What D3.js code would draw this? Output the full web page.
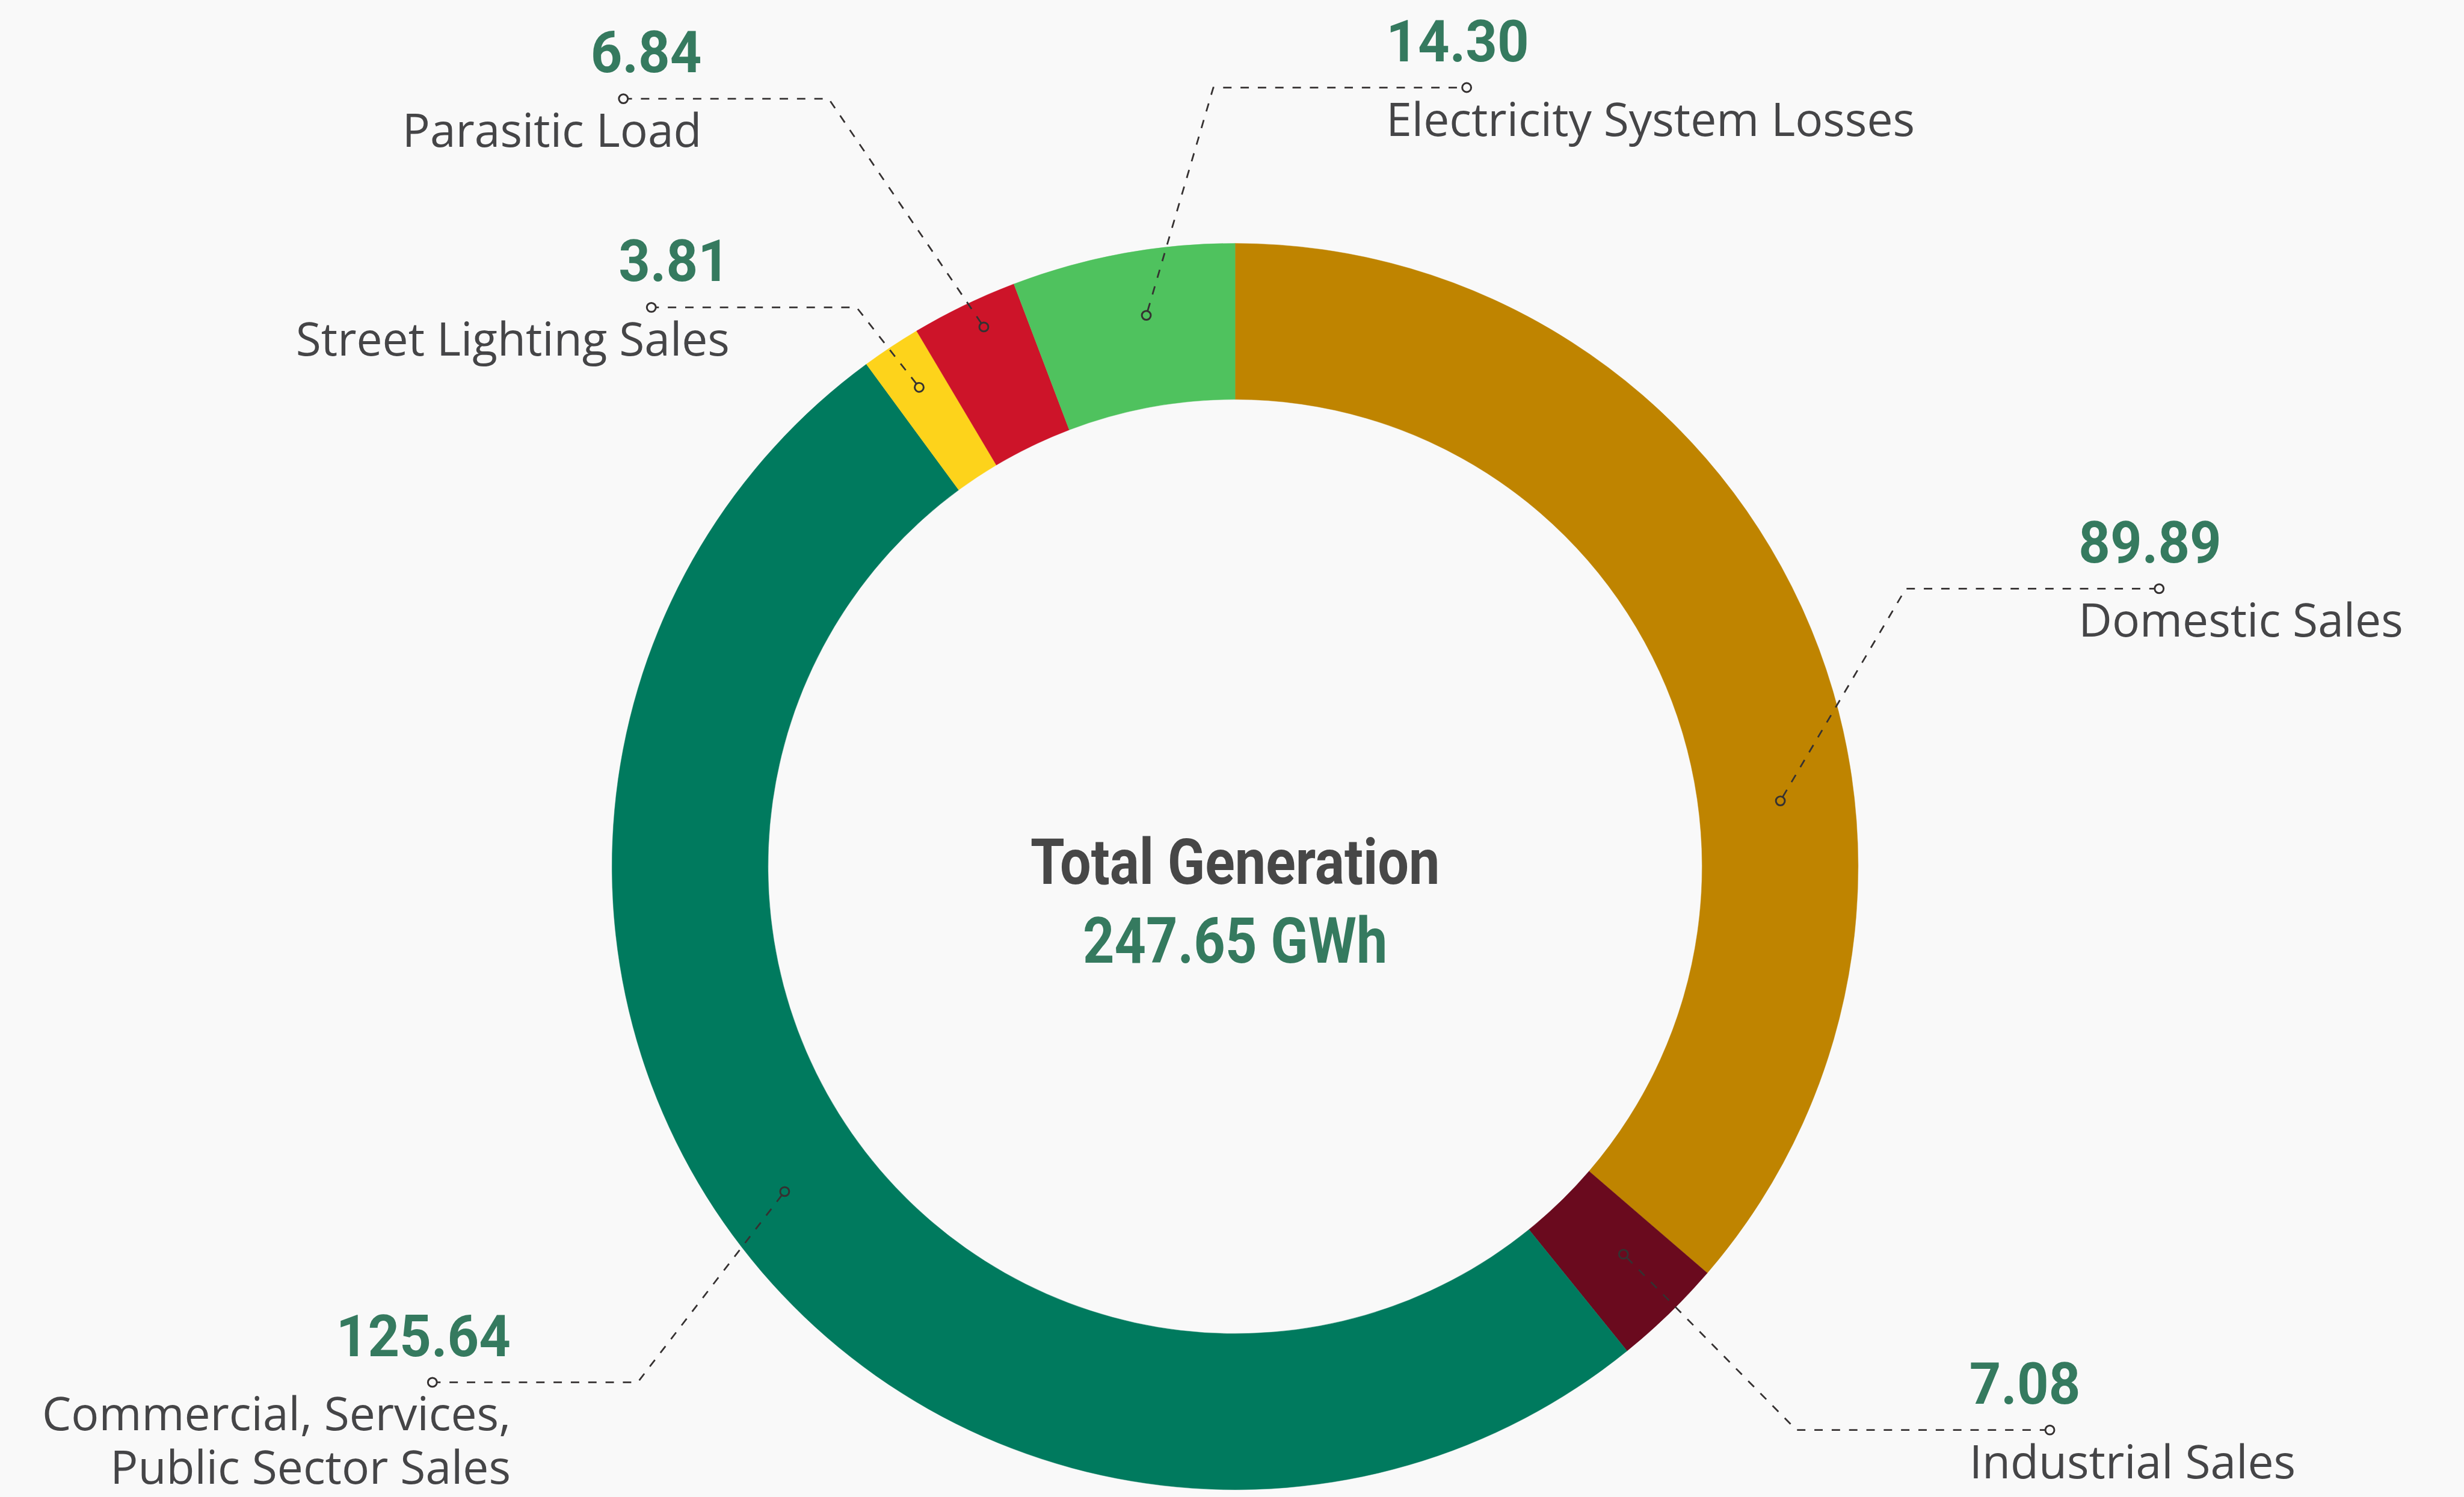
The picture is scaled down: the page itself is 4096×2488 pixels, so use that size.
<!DOCTYPE html>
<html>
<head>
<meta charset="utf-8">
<script src="https://cdn.jsdelivr.net/npm/d3@7"></script>
<style>
	html, body { margin: 0; padding: 0; background: #f9f9f9; }
	svg { display: block; }
</style>
</head>
<body>
<div id="chart"></div>
<script>

// data
const categories = [
	"Domestic Sales",
	"Industrial Sales",
	"Commercial, Services,\nPublic Sector Sales",
	"Street Lighting Sales",
	"Parasitic Load",
	"Electricity System Losses"
];
const values = [ 89.89, 7.08, 125.64, 3.81, 6.84, 14.30 ];
const totalGeneration = 247.65;
const totalTitle = "Total Generation";
const totalUnit = "GWh";

// styling
const sliceColors = [ "#bf8400", "#6a0a1e", "#007a5e", "#fdd31b", "#cd1429", "#4fc25e" ];

// leader layout: where the dot sits in the slice, and where the line bends
const leaders = [
	{ t: 0.636, ar: 982,  ea: 67.5,  er: 1298, side:  1 },
	{ t: 0.41,  ar: 981,  ea: 135.1, er: 1422, side:  1 },
	{ t: 0.51,  ar: 993,  ea: 229.2, er: 1411, side: -1 },
	{ t: 0.52,  ar: 1026, ea: 325.9, er: 1207, side: -1 },
	{ t: 0.58,  ar: 1064, ea: 332.1, er: 1553, side: -1 },
	{ t: 0.56,  ar: 998,  ea: 358.4, er: 1393, side:  1 }
];

///////////////////////////////////////////////////////////////////////

const W = 4405, H = 2676;
const cx = 2208, cy = 1549;
const r_out = 1114, r_in = 835;

const svg = d3.select( "#chart" )
	.append( "svg" )
	.attr( "width", 4096 )
	.attr( "height", 2488 )
	.attr( "viewBox", `0 0 ${W} ${H}` );

svg.append( "rect" )
	.attr( "width", W ).attr( "height", H )
	.attr( "fill", "#f9f9f9" );

const g = svg.append( "g" )
	.attr( "transform", `translate(${cx},${cy})` );

const pie = d3.pie()
	.sort( null )
	.value( d => d.value );

const slices = pie( values.map( ( v, i ) => ( { value: v, label: categories[ i ], i } ) ) );

const arc = d3.arc()
	.innerRadius( r_in )
	.outerRadius( r_out );

g.selectAll( "path.slice" )
	.data( slices )
	.join( "path" )
		.attr( "class", "slice" )
		.attr( "d", arc )
		.attr( "fill", d => sliceColors[ d.data.i ] )
		.attr( "stroke", d => sliceColors[ d.data.i ] )
		.attr( "stroke-width", 0.5 );

// polar helper, angle 0 at 12 o'clock going clockwise
function polar( a, r )	{
	return [ r * Math.sin( a ), -r * Math.cos( a ) ];
}

const fmt = d3.format( ".2f" );
const dot_r = 8;
const leg_right = 453, leg_left = 367;

const callouts = g.selectAll( "g.callout" )
	.data( slices )
	.join( "g" )
		.attr( "class", "callout" );

callouts.each( function( d )	{

	const L = leaders[ d.data.i ];
	const a = d.startAngle + L.t * ( d.endAngle - d.startAngle );
	const p0 = polar( a, L.ar );
	const p1 = polar( L.ea * Math.PI / 180, L.er );
	const p2 = [ p1[ 0 ] + L.side * ( L.side > 0 ? leg_right : leg_left ), p1[ 1 ] ];

	// trim the line so it stops at the rim of both dots
	const dx = p1[ 0 ] - p0[ 0 ], dy = p1[ 1 ] - p0[ 1 ];
	const len = Math.hypot( dx, dy );
	const s0 = [ p0[ 0 ] + dx / len * dot_r, p0[ 1 ] + dy / len * dot_r ];
	const s2 = [ p2[ 0 ] - L.side * dot_r, p2[ 1 ] ];

	const sel = d3.select( this );

	sel.append( "path" )
		.attr( "d", d3.line()( [ s0, p1, s2 ] ) )
		.attr( "fill", "none" )
		.attr( "stroke", "#353131" )
		.attr( "stroke-width", 3 )
		.attr( "stroke-dasharray", "15,16" );

	[ p0, p2 ].forEach( p => {
		sel.append( "circle" )
			.attr( "cx", p[ 0 ] ).attr( "cy", p[ 1 ] )
			.attr( "r", dot_r )
			.attr( "fill", "none" )
			.attr( "stroke", "#353131" )
			.attr( "stroke-width", 3.2 );
	} );

	const tx = L.side > 0 ? p2[ 0 ] - 144 : p2[ 0 ] + 140;
	const anchor = L.side > 0 ? "start" : "end";

	// value, slightly condensed like the original DIN face
	sel.append( "text" )
		.attr( "transform", `translate(${tx},${p2[ 1 ] - 47}) scale(0.95,1)` )
		.attr( "text-anchor", anchor )
		.attr( "font-family", "Roboto, sans-serif" )
		.attr( "font-weight", 700 )
		.attr( "font-size", 104 )
		.attr( "fill", "#357a5f" )
		.text( fmt( d.data.value ) );

	const lines = d.data.label.split( "\n" );
	sel.append( "text" )
		.attr( "text-anchor", anchor )
		.attr( "font-family", "'Open Sans', sans-serif" )
		.attr( "font-weight", 500 )
		.attr( "font-size", 82.5 )
		.attr( "fill", "#454547" )
		.selectAll( "tspan" )
		.data( lines )
		.join( "tspan" )
			.attr( "x", tx )
			.attr( "y", ( s, k ) => p2[ 1 ] + 86 + k * 95 )
			.text( s => s );
} );

// centre text
g.append( "text" )
	.attr( "transform", "translate(0,31) scale(0.865,1)" )
	.attr( "text-anchor", "middle" )
	.attr( "font-family", "Roboto, sans-serif" )
	.attr( "font-weight", 700 )
	.attr( "font-size", 114 )
	.attr( "fill", "#474747" )
	.text( totalTitle );

g.append( "text" )
	.attr( "transform", "translate(0,172) scale(0.865,1)" )
	.attr( "text-anchor", "middle" )
	.attr( "font-family", "Roboto, sans-serif" )
	.attr( "font-weight", 700 )
	.attr( "font-size", 114 )
	.attr( "fill", "#357a5f" )
	.text( fmt( totalGeneration ) + " " + totalUnit );

</script>
</body>
</html>
